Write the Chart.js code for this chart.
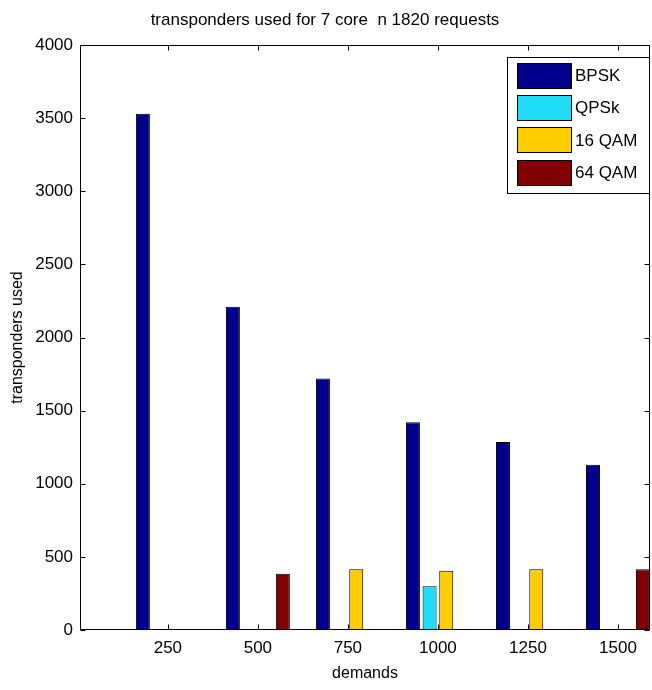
<!DOCTYPE html>
<html>
<head>
<meta charset="utf-8">
<style>
  body { margin: 0; background: #fff; }
  canvas { display: block; }
</style>
</head>
<body>
<canvas id="transpondersChart" width="652" height="690"></canvas>
<script src="https://cdn.jsdelivr.net/npm/chart.js@4.4.1/dist/chart.umd.min.js"></script>
<script>
  const demands = [250, 500, 750, 1000, 1250, 1500];
  const bpsk = [3530, 2210, 1720, 1420, 1285, 1130];
  const qpsk = [0, 0, 0, 300, 0, 0];
  const qam16 = [0, 0, 415, 405, 415, 0];
  const qam64 = [0, 385, 0, 0, 0, 415];
  const yTicks = [0, 500, 1000, 1500, 2000, 2500, 3000, 3500, 4000];

  const font = "'Liberation Sans', Arial, sans-serif";

  // box round the plot, inward ticks and the legend, drawn like matlab does
  const matlabAxes = {
    id: "matlabAxes",
    afterDraw(chart) {
      const ctx = chart.ctx;
      const a = chart.chartArea;
      const x = chart.scales.x;
      const y = chart.scales.y;
      const L = Math.round(a.left) + 0.5;
      const R = Math.round(a.right) - 0.5;
      const T = Math.round(a.top) + 0.5;
      const B = Math.round(a.bottom) - 0.5;
      ctx.save();
      ctx.strokeStyle = "#000";
      ctx.lineWidth = 1;
      ctx.beginPath();
      ctx.rect(L, T, R - L, B - T);
      x.ticks.forEach((t) => {
        const px = Math.round(x.getPixelForValue(t.value)) + 0.5;
        ctx.moveTo(px, B); ctx.lineTo(px, B - 5);
        ctx.moveTo(px, T); ctx.lineTo(px, T + 5);
      });
      y.ticks.forEach((t) => {
        const py = Math.round(y.getPixelForValue(t.value)) + 0.5;
        ctx.moveTo(L, py); ctx.lineTo(L + 5, py);
        ctx.moveTo(R, py); ctx.lineTo(R - 5, py);
      });
      ctx.stroke();

      // legend
      const bx = 507.5, by = 57.5, bw = 142, bh = 136;
      ctx.fillStyle = "#fff";
      ctx.fillRect(bx, by, bw, bh);
      ctx.strokeRect(bx, by, bw, bh);
      ctx.font = "17px " + font;
      ctx.textBaseline = "middle";
      ctx.textAlign = "left";
      chart.data.datasets.forEach((ds, i) => {
        const cy = 75.5 + i * 32.2;
        ctx.fillStyle = ds.backgroundColor;
        ctx.fillRect(517.5, Math.round(cy - 12.5) + 0.5, 54, 25);
        ctx.strokeRect(517.5, Math.round(cy - 12.5) + 0.5, 54, 25);
        ctx.fillStyle = "#000";
        ctx.fillText(ds.label, 575, cy + 1);
      });
      ctx.restore();
    },
  };

  const ctx = document.getElementById("transpondersChart").getContext("2d");
  const chart = new Chart(ctx, {
    type: "bar",
    data: {
      labels: demands,
      datasets: [
        { label: "BPSK", data: bpsk, backgroundColor: "#00008c" },
        { label: "QPSk", data: qpsk, backgroundColor: "#1fdcf7" },
        { label: "16 QAM", data: qam16, backgroundColor: "#ffcc00" },
        { label: "64 QAM", data: qam64, backgroundColor: "#800000" },
      ],
    },
    options: {
      responsive: false,
      animation: false,
      devicePixelRatio: 1,
      layout: { padding: { left: 0, right: 2, top: 0, bottom: 0 } },
      datasets: {
        bar: {
          borderColor: "#000",
          borderWidth: 1,
          borderSkipped: false,
          categoryPercentage: 0.74,
          barPercentage: 0.84,
        },
      },
      plugins: {
        legend: { display: false },
        tooltip: { enabled: false },
        title: {
          display: true,
          text: "transponders used for 7 core  n 1820 requests",
          color: "#000",
          font: { family: font, size: 17, weight: "normal" },
          padding: { top: 10, bottom: 14.6 },
        },
      },
      scales: {
        x: {
          type: "linear",
          offset: false,
          min: 6,
          max: 1589,
          afterBuildTicks: (scale) => {
            scale.ticks = demands.map((v) => ({ value: v }));
          },
          afterFit: (scale) => { scale.height = 60; },
          grid: { display: false, drawTicks: false },
          border: { display: false },
          ticks: {
            color: "#000",
            padding: 8,
            font: { family: font, size: 17 },
            callback: (v) => String(v),
          },
          title: {
            display: true,
            text: "demands",
            color: "#000",
            font: { family: font, size: 16 },
            padding: { top: 0, bottom: 7 },
          },
        },
        y: {
          min: 0,
          max: 4000,
          afterBuildTicks: (scale) => {
            scale.ticks = yTicks.map((v) => ({ value: v }));
          },
          afterFit: (scale) => { scale.width = 80; },
          grid: { display: false, drawTicks: false },
          border: { display: false },
          ticks: {
            color: "#000",
            padding: 7,
            font: { family: font, size: 17 },
            callback: (v) => String(v),
          },
          title: {
            display: true,
            text: "transponders used",
            color: "#000",
            font: { family: font, size: 16 },
            padding: { top: 8, bottom: 0 },
          },
        },
      },
    },
    plugins: [matlabAxes],
  });
</script>
</body>
</html>
